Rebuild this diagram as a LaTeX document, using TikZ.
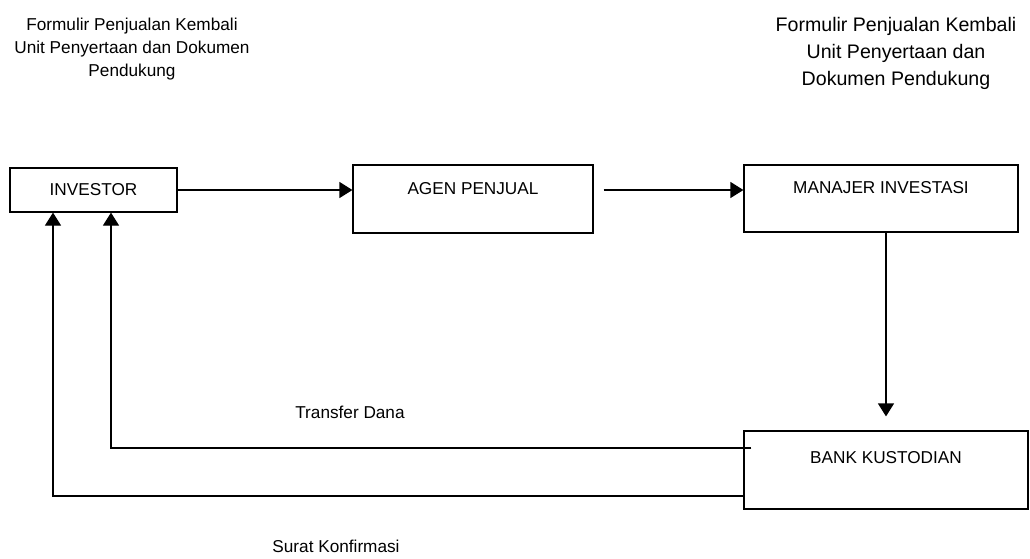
\documentclass[tikz,border=0pt]{standalone}
\usepackage{fontspec}
\setmainfont{Liberation Sans}
\usetikzlibrary{arrows.meta,positioning}

\begin{document}
\begin{tikzpicture}[x=0.5pt,y=-0.5pt]
                \tikzset{Box/.style={%
                    shape=rectangle,%
                    draw=black,%
                    line width=0.6pt,%
                    inner sep=2pt,%
                    font=\fontsize{8.6}{11.5}\selectfont,%
                },
                TopBox/.style={%
                    Box,%
                    text height=7pt,%
                    text depth=#1,%
                },
                Note/.style={%
                    align=center,%
                    inner sep=0pt,%
                    font=\fontsize{8.6}{11.5}\selectfont,%
                },
                Flow/.style={%
                    line width=0.6pt,%
                    -{Triangle[width=8pt,length=6.5pt]},%
                }}
                \useasboundingbox (0,0) rectangle (1030,558);

                \node[Box, minimum width=83.5pt, minimum height=22pt] (inv) at (93.5,190) {INVESTOR};
                \node[TopBox=12pt, minimum width=120pt, minimum height=34pt] (agen) at (473,199) {AGEN PENJUAL};
                \node[TopBox=12pt, minimum width=137pt, minimum height=33.5pt] (mi) at (881,198.5) {MANAJER INVESTASI};
                \node[TopBox=14pt, minimum width=142pt, minimum height=39pt] (bk) at (886,470) {BANK KUSTODIAN};

                \node[Note] (docl) at (132,49) {Formulir Penjualan Kembali\\Unit Penyertaan dan Dokumen\\Pendukung};
                \node[Note, font=\fontsize{9.8}{13.5}\selectfont] (docr) at (896,53) {Formulir Penjualan Kembali\\Unit Penyertaan dan\\Dokumen Pendukung};
                \node[Note] (dana) at (350,412) {Transfer Dana};
                \node[Note] (surat) at (336,546) {Surat Konfirmasi};

                \path (inv.east) edge[Flow] (inv.east -| agen.west);
                \path ([xshift=5pt]agen.east |- inv.east) edge[Flow] (mi.west |- inv.east);
                \path (bk.north |- mi.south) edge[Flow] ([yshift=7pt]bk.north);
                \draw[Flow] ([shift={(4pt,11pt)}]bk.west) -| ([xshift=8.75pt]inv.south);
                \draw[Flow] ([yshift=-13pt]bk.west) -| ([xshift=-20.25pt]inv.south);
            \end{tikzpicture}
\end{document}
